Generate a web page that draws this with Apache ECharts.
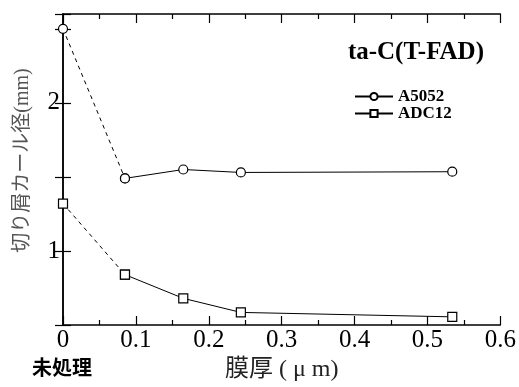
<!DOCTYPE html>
<html>
<head>
<meta charset="utf-8">
<script src="https://cdn.jsdelivr.net/npm/echarts@6/dist/echarts.min.js"></script>
<style>
  html, body { margin: 0; padding: 0; background: #fff; }
  #chart { width: 519px; height: 387px; }
</style>
</head>
<body>
<div id="chart"></div>
<script>
// 膜厚 (μm) — 0 は未処理
const thickness = [0, 0.085, 0.165, 0.244, 0.534]
const a5052 = [2.50, 1.49, 1.55, 1.53, 1.535]
const adc12 = [1.32, 0.84, 0.68, 0.585, 0.555]
const yLabels = [1, 2]

const serif = "'Liberation Serif', 'Times New Roman', serif"
const cjk = "'Liberation Serif', 'Noto Sans CJK JP', serif"

function pairs(xs, ys, from, to) {
  const out = []
  for (let i = from; i < to; i++) out.push([xs[i], ys[i]])
  return out
}

const markStyle = {
  color: '#fff',
  borderColor: '#000',
  borderWidth: 1.2
}

function makeSeries(name, ys, symbol, size) {
  return [
    {
      name: name,
      type: 'line',
      symbol: symbol,
      symbolSize: size,
      itemStyle: markStyle,
      lineStyle: { color: '#000', width: 1 },
      data: pairs(thickness, ys, 1, ys.length),
      z: 3
    },
    {
      // 未処理からの破線
      name: name + ' (未処理)',
      type: 'line',
      symbol: symbol,
      symbolSize: size,
      itemStyle: markStyle,
      lineStyle: { color: '#000', width: 1, type: [4, 4] },
      data: pairs(thickness, ys, 0, 2),
      z: 2
    }
  ]
}

const chart = echarts.init(document.getElementById('chart'))

const tickStyle = { color: '#000', width: 1.2 }
const lineStyle = { color: '#000', width: 1.5 }

const option = {
  animation: false,
  backgroundColor: '#fff',
  grid: { left: 63, right: 17, top: 14, bottom: 60 },
  title: {
    text: 'ta-C(T-FAD)',
    right: 35,
    top: 40,
    padding: 0,
    textStyle: { fontFamily: serif, fontWeight: 'bold', fontSize: 25, color: '#000' }
  },
  legend: {
    data: ['A5052', 'ADC12'],
    orient: 'vertical',
    left: 354,
    top: 88,
    itemWidth: 38,
    itemHeight: 9,
    itemGap: 0,
    padding: 0,
    textStyle: {
      fontFamily: serif,
      fontWeight: 'bold',
      fontSize: 17,
      lineHeight: 14,
      color: '#000'
    }
  },
  xAxis: [
    {
      type: 'value',
      min: 0,
      max: 0.6,
      interval: 0.1,
      position: 'bottom',
      name: '膜厚 ( μ m)',
      nameLocation: 'middle',
      nameGap: 33,
      nameTextStyle: { fontFamily: cjk, fontSize: 24, color: '#222' },
      axisLine: { lineStyle: lineStyle },
      axisTick: { inside: true, length: 9, lineStyle: tickStyle },
      minorTick: { show: true, splitNumber: 2, length: 5, lineStyle: tickStyle },
      axisLabel: { fontFamily: serif, fontSize: 25, color: '#000', margin: 3 },
      splitLine: { show: false }
    },
    {
      type: 'value',
      min: 0,
      max: 0.6,
      interval: 0.1,
      position: 'top',
      axisLine: { lineStyle: lineStyle },
      axisTick: { inside: true, length: 9, lineStyle: tickStyle },
      minorTick: { show: true, splitNumber: 2, length: 5, lineStyle: tickStyle },
      axisLabel: { show: false },
      splitLine: { show: false }
    }
  ],
  yAxis: [
    {
      type: 'value',
      min: 0.5,
      max: 2.6,
      interval: 0.5,
      position: 'left',
      name: '切り屑カール径(mm)',
      nameLocation: 'middle',
      nameRotate: 90,
      nameGap: 30,
      nameTextStyle: { fontFamily: cjk, fontSize: 20, color: '#555', padding: [0, 0, 0, 18] },
      axisLine: { lineStyle: lineStyle },
      axisTick: { inside: true, length: 8, lineStyle: tickStyle },
      axisLabel: {
        fontFamily: serif,
        fontSize: 25,
        color: '#000',
        margin: 3,
        formatter: v => (yLabels.includes(v) ? String(v) : '')
      },
      splitLine: { show: false }
    },
    {
      type: 'value',
      min: 0.5,
      max: 2.6,
      interval: 0.5,
      position: 'right',
      axisLine: { lineStyle: lineStyle },
      axisTick: { inside: true, length: 8, lineStyle: tickStyle },
      axisLabel: { show: false },
      splitLine: { show: false }
    }
  ],
  graphic: [
    {
      type: 'text',
      left: 32,
      top: 357,
      style: {
        text: '未処理',
        font: "bold 20px 'Noto Sans CJK JP', sans-serif",
        fill: '#000'
      }
    }
  ],
  series: [].concat(
    makeSeries('A5052', a5052, 'circle', 9),
    makeSeries('ADC12', adc12, 'rect', 9)
  )
}

chart.setOption(option)
</script>
</body>
</html>
